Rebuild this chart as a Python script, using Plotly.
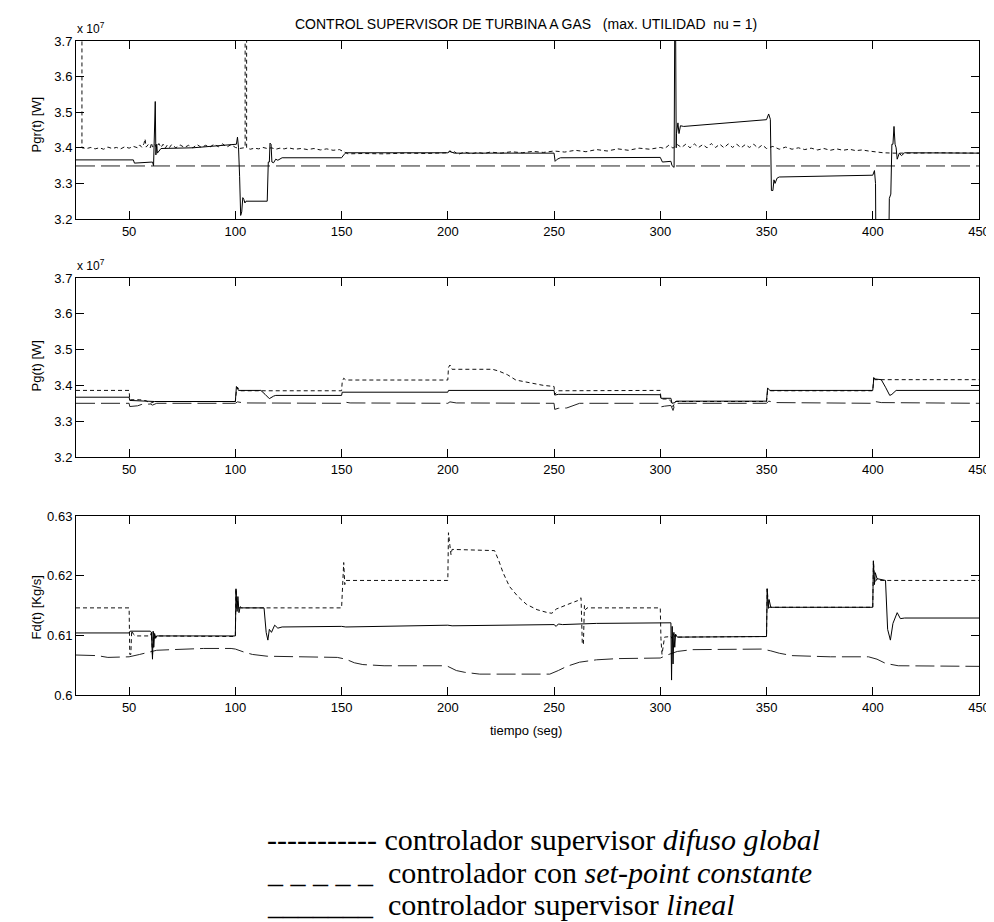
import plotly.graph_objects as go

# ---------------- data ----------------
# time axis ticks
x_ticks = [50, 100, 150, 200, 250, 300, 350, 400, 450]
x_range = [25, 450]

# Panel 1: Pgr(t) [W]  (values in units of 1e7)
pgr_ticks = [3.2, 3.3, 3.4, 3.5, 3.6, 3.7]
pgr_ticklabels = ["3.2", "3.3", "3.4", "3.5", "3.6", "3.7"]

pgr_difuso = [
    (25, 3.80), (27.8, 3.80), (27.8, 3.40), (30, 3.398), (32, 3.401), (34, 3.397), (36, 3.400),
    (38, 3.396), (40, 3.402), (42, 3.398), (44, 3.401), (46, 3.397), (48, 3.403), (50, 3.399),
    (52, 3.404), (54, 3.400), (55, 3.408), (56, 3.401), (57, 3.412), (57.5, 3.425), (58, 3.402),
    (59, 3.409), (60, 3.400), (60.5, 3.414), (61, 3.402), (62, 3.410), (63, 3.400), (64, 3.412),
    (65, 3.401), (66, 3.410), (67, 3.399), (68, 3.408), (69, 3.401), (70, 3.409), (72, 3.400),
    (74, 3.408), (76, 3.401), (78, 3.407), (80, 3.400), (82, 3.409), (84, 3.401), (86, 3.407),
    (88, 3.402), (90, 3.410), (92, 3.403), (94, 3.411), (96, 3.402), (98, 3.409), (100, 3.401),
    (102, 3.398), (104, 3.400), (104.6, 3.402), (104.6, 3.80), (105.3, 3.80), (105.3, 3.400),
    (107, 3.396), (109, 3.399), (111, 3.397), (113, 3.401), (115, 3.398), (117, 3.400),
    (119, 3.396), (121, 3.399), (123, 3.397), (125, 3.400), (128, 3.396), (131, 3.398),
    (134, 3.395), (137, 3.398), (140, 3.394), (143, 3.397), (146, 3.393), (149, 3.395),
    (151, 3.390), (153, 3.383), (160, 3.384), (170, 3.383), (180, 3.385), (190, 3.384),
    (200, 3.386), (201, 3.392), (202, 3.383), (203, 3.389), (205, 3.382), (208, 3.388),
    (211, 3.383), (214, 3.387), (217, 3.384), (220, 3.388), (225, 3.385), (230, 3.389),
    (235, 3.386), (240, 3.390), (245, 3.387), (250, 3.391), (255, 3.388), (260, 3.393),
    (265, 3.389), (270, 3.395), (275, 3.391), (280, 3.397), (285, 3.393), (290, 3.399),
    (295, 3.396), (300, 3.401), (302, 3.398), (304, 3.407), (306, 3.399), (308, 3.409),
    (310, 3.401), (312, 3.410), (314, 3.400), (316, 3.411), (318, 3.401), (320, 3.409),
    (322, 3.400), (324, 3.412), (326, 3.401), (328, 3.410), (330, 3.400), (332, 3.411),
    (334, 3.401), (336, 3.410), (338, 3.400), (340, 3.409), (342, 3.401), (344, 3.410),
    (346, 3.399), (348, 3.408), (350, 3.398), (353, 3.404), (356, 3.396), (359, 3.402),
    (362, 3.396), (365, 3.400), (368, 3.395), (371, 3.399), (374, 3.394), (377, 3.398),
    (380, 3.393), (383, 3.397), (386, 3.393), (389, 3.396), (392, 3.392), (395, 3.394),
    (398, 3.391), (401, 3.388), (405, 3.386), (410, 3.385), (415, 3.386), (420, 3.385),
    (430, 3.386), (440, 3.385), (450, 3.385),
]

pgr_setpoint = [(25, 3.349), (450, 3.349)]

pgr_lineal = [
    (25, 3.366), (52, 3.366), (52.5, 3.357), (61, 3.360), (61.5, 3.350), (62, 3.530),
    (62.3, 3.530), (62.6, 3.380), (63, 3.410), (63.3, 3.385), (65, 3.398), (80, 3.400),
    (99, 3.410), (100.5, 3.410), (101, 3.430), (101.5, 3.400), (102, 3.320), (102.5, 3.210),
    (103, 3.220), (103.5, 3.260), (104, 3.255), (104.5, 3.245), (105, 3.250), (115, 3.250),
    (115.5, 3.360), (116, 3.360), (116.3, 3.413), (116.8, 3.410), (117.2, 3.360), (118, 3.358),
    (119, 3.368), (120, 3.365), (122, 3.372), (150, 3.372), (151, 3.380), (152, 3.386),
    (200, 3.386), (201, 3.390), (203, 3.385), (250, 3.385), (250.5, 3.362), (251.5, 3.368),
    (253, 3.372), (300, 3.373), (301, 3.360), (305, 3.362), (305.5, 3.350), (306.5, 3.345),
    (306.8, 3.750), (307.2, 3.750), (307.5, 3.400), (307.6, 3.440), (308.3, 3.470),
    (308.8, 3.440), (309.5, 3.462), (311, 3.460), (350, 3.479), (351, 3.495), (351.8, 3.480),
    (352.3, 3.280), (353, 3.280), (353.5, 3.310), (354, 3.300), (355, 3.315), (356, 3.318),
    (400, 3.323), (400.8, 3.336), (401.3, 3.300), (401.5, 3.100), (407.5, 3.100),
    (407.8, 3.258), (408.5, 3.270), (409, 3.410), (409.5, 3.410), (410, 3.460), (410.5, 3.410),
    (411, 3.400), (411.5, 3.368), (412.5, 3.385), (413.5, 3.378), (415, 3.386), (450, 3.385),
]

# Panel 2: Pg(t) [W]  (values in units of 1e7)
pg_ticks = [3.2, 3.3, 3.4, 3.5, 3.6, 3.7]
pg_ticklabels = ["3.2", "3.3", "3.4", "3.5", "3.6", "3.7"]

pg_difuso = [
    (25, 3.386), (50, 3.386), (50.3, 3.360), (55, 3.360), (58, 3.357), (60, 3.350),
    (62, 3.355), (100, 3.355), (100.5, 3.385), (101, 3.395), (102, 3.385), (150, 3.385),
    (150.3, 3.410), (151, 3.420), (152, 3.415), (200, 3.415), (200.3, 3.450), (201, 3.457),
    (202, 3.445), (221, 3.445), (224, 3.440), (228, 3.430), (232, 3.415), (236, 3.410),
    (240, 3.405), (245, 3.400), (250, 3.397), (250.3, 3.375), (252, 3.385), (300, 3.386),
    (300.3, 3.362), (304, 3.362), (305, 3.355), (306, 3.340), (307, 3.355), (350, 3.355),
    (350.5, 3.385), (400, 3.385), (400.5, 3.425), (401, 3.416), (450, 3.416),
]

pg_setpoint = [
    (25, 3.350), (50, 3.350), (50.3, 3.341), (54, 3.343), (56, 3.347), (60, 3.348),
    (61, 3.345), (63, 3.350), (100, 3.350), (101, 3.354), (104, 3.351), (150, 3.350),
    (151, 3.354), (154, 3.351), (200, 3.350), (201, 3.354), (204, 3.351), (250, 3.350),
    (250.3, 3.333), (252, 3.336), (256, 3.337), (262, 3.350), (300, 3.350), (300.3, 3.340),
    (302, 3.342), (305, 3.344), (306, 3.330), (307, 3.350), (350, 3.350), (351, 3.356),
    (354, 3.352), (400, 3.350), (401, 3.355), (404, 3.352), (450, 3.350),
]

pg_lineal = [
    (25, 3.367), (50, 3.367), (50.3, 3.358), (60, 3.356), (62, 3.355), (100, 3.355),
    (100.5, 3.397), (101.5, 3.386), (112, 3.386), (114, 3.375), (116, 3.363), (118, 3.370),
    (119, 3.372), (150, 3.372), (150.3, 3.381), (200, 3.381), (200.3, 3.386), (250, 3.386),
    (250.3, 3.373), (252, 3.375), (300, 3.374), (300.3, 3.364), (305, 3.364), (305.5, 3.350),
    (307, 3.352), (307.5, 3.356), (350, 3.356), (350.5, 3.393), (351.5, 3.386), (400, 3.386),
    (400.5, 3.421), (401, 3.418), (404, 3.416), (406, 3.395), (408, 3.372), (409, 3.375),
    (410, 3.382), (411, 3.386), (450, 3.386),
]

# Panel 3: Fd(t) [Kg/s]
fd_ticks = [0.60, 0.61, 0.62, 0.63]
fd_ticklabels = ["0.6", "0.61", "0.62", "0.63"]

fd_difuso = [
    (25, 0.6146), (50, 0.6146), (50.3, 0.6068), (50.8, 0.6068), (51.2, 0.6108), (52, 0.6102),
    (53, 0.6099), (60, 0.6099), (60.5, 0.6105), (61, 0.6065), (61.5, 0.6105), (62, 0.6095),
    (62.5, 0.6099), (100, 0.6098), (100.3, 0.6178), (100.7, 0.6145), (101, 0.6160),
    (101.5, 0.6146), (150, 0.6146), (150.3, 0.6180), (151, 0.6222), (151.5, 0.6185),
    (152, 0.6192), (200, 0.6192), (200.3, 0.6272), (201, 0.6250), (201.5, 0.6235),
    (202, 0.6244), (222, 0.6242), (224, 0.6225), (226, 0.6205), (229, 0.6182), (233, 0.6165),
    (237, 0.6152), (242, 0.6143), (247, 0.6138), (249, 0.6137), (251, 0.6144), (255, 0.6149),
    (258, 0.6154), (261, 0.6158), (262.7, 0.6163), (263.3, 0.6085), (263.8, 0.6085),
    (264.3, 0.6150), (264.8, 0.6143), (265.5, 0.6146), (300, 0.6146), (300.3, 0.6095),
    (300.8, 0.6068), (301.3, 0.6080), (302, 0.6097), (305, 0.6098), (305.5, 0.6095),
    (306, 0.6103), (307, 0.6097), (350, 0.6098), (350.3, 0.6178), (351, 0.6147),
    (400, 0.6147), (400.3, 0.6225), (401, 0.6188), (402, 0.6195), (403, 0.6192), (450, 0.6192),
]

fd_setpoint = [
    (25, 0.6067), (35, 0.6066), (40, 0.6063), (48, 0.6063), (50, 0.6064), (55, 0.6068),
    (60, 0.6073), (63, 0.6075), (70, 0.6076), (85, 0.6078), (98, 0.6078), (100, 0.6077),
    (104, 0.6072), (108, 0.6068), (115, 0.6065), (130, 0.6064), (148, 0.6063), (152, 0.6060),
    (156, 0.6054), (160, 0.6051), (170, 0.6049), (198, 0.6049), (200, 0.6048), (204, 0.6041),
    (208, 0.6038), (215, 0.6035), (248, 0.6035), (252, 0.6041), (256, 0.6048), (262, 0.6055),
    (270, 0.6059), (280, 0.6061), (300, 0.6062), (304, 0.6068), (308, 0.6073), (315, 0.6076),
    (348, 0.6077), (352, 0.6074), (356, 0.6070), (362, 0.6066), (380, 0.6064), (398, 0.6064),
    (402, 0.6060), (406, 0.6053), (412, 0.6049), (450, 0.6048),
]

fd_lineal = [
    (25, 0.6104), (50, 0.6104), (50.5, 0.6107), (60, 0.6107), (60.5, 0.6105), (61, 0.6060),
    (61.3, 0.6107), (61.6, 0.6080), (62, 0.6103), (62.5, 0.6095), (63, 0.6099), (100, 0.6099),
    (100.3, 0.6178), (100.8, 0.6140), (101.2, 0.6165), (101.7, 0.6138), (102.3, 0.6148),
    (103, 0.6146), (113.5, 0.6146), (114.5, 0.6105), (115.3, 0.6092), (116, 0.6110),
    (117, 0.6105), (118.5, 0.6117), (120, 0.6112), (122, 0.6114), (150, 0.6115), (152, 0.6114),
    (200, 0.6117), (202, 0.6116), (250, 0.6118), (251, 0.6115), (252, 0.6119), (254, 0.6118),
    (270, 0.6120), (300, 0.6121), (305, 0.6121), (305.3, 0.6025), (305.6, 0.6115),
    (306, 0.6052), (306.4, 0.6105), (306.8, 0.6080), (307.2, 0.6102), (308, 0.6097),
    (350, 0.6098), (350.3, 0.6178), (350.8, 0.6145), (351.2, 0.6160), (352, 0.6147),
    (400, 0.6147), (400.3, 0.6225), (400.8, 0.6185), (401.2, 0.6205), (402, 0.6195),
    (406, 0.6192), (407, 0.6110), (408.3, 0.6092), (409.5, 0.6120), (410.5, 0.6128),
    (411.5, 0.6138), (413, 0.6128), (415, 0.6129), (450, 0.6129),
]

# ---------------- figure ----------------
W, H = 994, 922
ML, MR, MT, MB = 68, 14, 33, 235
PW, PH = W - ML - MR, H - MT - MB


def px_x(px):
    return (px - ML) / PW


def px_y(py):
    return (H - MB - py) / PH


FONT = "Liberation Sans, Arial, sans-serif"
SERIF = "Liberation Serif, Times New Roman, serif"

DOT = "4px,3px"
DASH = "19px,6px"

fig = go.Figure()

panels = [
    ("x", "y", pgr_difuso, pgr_setpoint, pgr_lineal),
    ("x2", "y2", pg_difuso, pg_setpoint, pg_lineal),
    ("x3", "y3", fd_difuso, fd_setpoint, fd_lineal),
]

for xa, ya, dif, sp, lin in panels:
    for series, dash, color in ((dif, DOT, "#111111"), (sp, DASH, "#222222"), (lin, "solid", "#000000")):
        fig.add_trace(go.Scatter(
            x=[p[0] for p in series], y=[p[1] for p in series],
            xaxis=xa, yaxis=ya, mode="lines",
            line=dict(color=color, width=1, dash=dash),
            showlegend=False, hoverinfo="skip",
        ))

# panel pixel extents (top, bottom)
pan_px = [(33, 211), (270, 449), (508, 687)]
ytick_sets = [(pgr_ticks, pgr_ticklabels, [3.2, 3.7]),
              (pg_ticks, pg_ticklabels, [3.2, 3.7]),
              (fd_ticks, fd_ticklabels, [0.60, 0.63])]

axis_common = dict(
    showline=True, linecolor="#000000", linewidth=1, mirror="allticks",
    ticks="inside", ticklen=8, tickcolor="#000000", tickwidth=1,
    showgrid=False, zeroline=False,
    tickfont=dict(family=FONT, size=13, color="#000000"),
)

layout_axes = {}
for i, ((top, bot), (tv, tt, yr)) in enumerate(zip(pan_px, ytick_sets)):
    sfx = "" if i == 0 else str(i + 1)
    layout_axes["xaxis" + sfx] = dict(
        domain=[0, 1], anchor="y" + sfx, range=x_range,
        tickvals=x_ticks, ticktext=[str(v) for v in x_ticks], **axis_common)
    layout_axes["yaxis" + sfx] = dict(
        domain=[px_y(bot), px_y(top)], anchor="x" + sfx, range=yr,
        tickvals=tv, ticktext=tt, **axis_common)

fig.update_layout(
    width=W, height=H,
    margin=dict(l=ML, r=MR, t=MT, b=MB, pad=0),
    paper_bgcolor="#ffffff", plot_bgcolor="#ffffff",
    **layout_axes,
)

ann = []
# title
ann.append(dict(text="CONTROL SUPERVISOR DE TURBINA A GAS\u00a0\u00a0\u00a0(max. UTILIDAD\u00a0\u00a0nu = 1)",
                x=px_x(522), y=px_y(16), xref="paper", yref="paper",
                xanchor="center", yanchor="middle", showarrow=False,
                font=dict(family=FONT, size=14, color="#000000")))
# x 10^7 multipliers
for py in (20, 257):
    ann.append(dict(text="x 10<sup>7</sup>", x=px_x(67), y=px_y(py), xref="paper", yref="paper",
                    xanchor="left", yanchor="middle", showarrow=False,
                    font=dict(family=FONT, size=12, color="#000000")))
# y-axis titles
for txt, py in (("Pgr(t) [W]", 116), ("Pg(t) [W]", 358), ("Fd(t) [Kg/s]", 599)):
    ann.append(dict(text=txt, x=px_x(28), y=px_y(py), xref="paper", yref="paper",
                    xanchor="center", yanchor="middle", textangle=-90, showarrow=False,
                    font=dict(family=FONT, size=13, color="#000000")))
# x-axis title
ann.append(dict(text="tiempo (seg)", x=px_x(522), y=px_y(722), xref="paper", yref="paper",
                xanchor="center", yanchor="middle", showarrow=False,
                font=dict(family=FONT, size=13, color="#000000")))
# text legend below the plots
legend_lines = [
    ("-----------\u00a0controlador supervisor <i>difuso global</i>", 831),
    ("_\u00a0_\u00a0_\u00a0_\u00a0_\u00a0\u00a0controlador con <i>set-point constante</i>", 864),
    ("_______\u00a0\u00a0controlador supervisor <i>lineal</i>", 896),
]
for txt, py in legend_lines:
    ann.append(dict(text=txt, x=px_x(259), y=px_y(py), xref="paper", yref="paper",
                    xanchor="left", yanchor="middle", showarrow=False,
                    font=dict(family=SERIF, size=30, color="#000000")))

fig.update_layout(annotations=ann)

fig.write_html("out.html")
